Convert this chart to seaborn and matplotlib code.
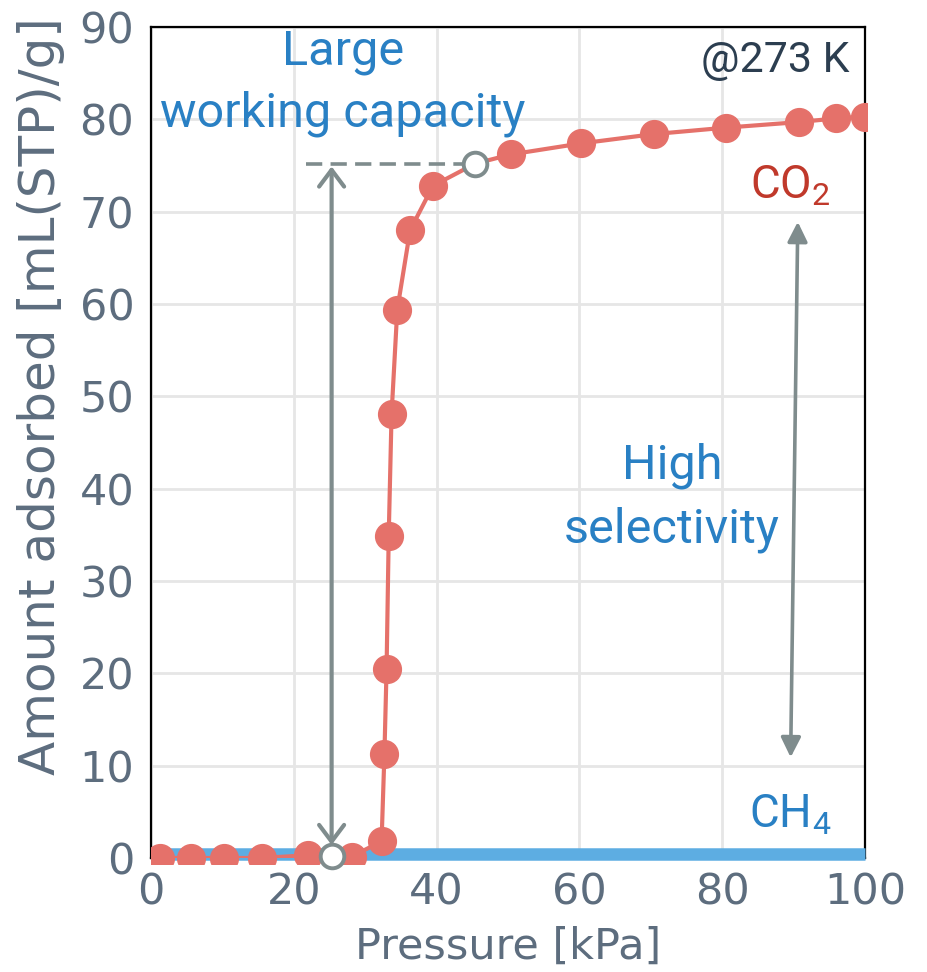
import matplotlib
matplotlib.use("Agg")
import matplotlib.pyplot as plt
from matplotlib.transforms import Bbox, TransformedBbox
import seaborn as sns
import pandas as pd

# CO2 isotherm at 273 K (pressure in kPa, uptake in mL(STP)/g)
co2_pressure = [1.3, 5.6, 10.2, 15.5, 22.0, 28.1, 32.3, 32.7, 33.0, 33.3, 33.7,
                34.5, 36.3, 39.5, 45.4, 50.4, 60.3, 70.4, 80.5, 90.7, 95.9, 100.0]
co2_amount = [0.0, 0.0, 0.0, 0.0, 0.3, 0.15, 1.8, 11.3, 20.5, 34.9, 48.1,
              59.4, 68.0, 72.8, 75.2, 76.2, 77.4, 78.4, 79.1, 79.7, 80.1, 80.3]

# CH4 isotherm (practically flat)
ch4_pressure = [0.0, 20.0, 40.0, 60.0, 80.0, 100.0]
ch4_amount = [0.45, 0.45, 0.45, 0.45, 0.45, 0.45]

# Working-capacity endpoints (hollow markers)
open_pressure = [25.3, 45.4]
open_amount = [0.2, 75.2]

# Selectivity arrow endpoints
sel_pressure = [90.6, 89.6]
sel_amount = [68.9, 10.9]

x_ticks = [0, 20, 40, 60, 80, 100]
y_ticks = [0, 10, 20, 30, 40, 50, 60, 70, 80, 90]

RED = "#e5716a"
DARK_RED = "#c0392b"
BLUE_TXT = "#2980c4"
BLUE_LINE = "#5dade2"
GRAY = "#7f8c8d"
TICK = "#5d6d7e"

sns.set_theme(style="whitegrid")
plt.rcParams["font.family"] = ["DejaVu Sans"]
plt.rcParams["mathtext.fontset"] = "custom"
plt.rcParams["mathtext.rm"] = "Roboto"

fig = plt.figure(figsize=(9.28, 9.72), dpi=100)
ax = fig.add_axes([0.1627, 0.1173, 0.932 - 0.1627, 0.9722 - 0.1173])

# clip region reaching a little below the bottom spine
clip = TransformedBbox(Bbox([[0.0, -0.007], [1.003, 1.0]]), ax.transAxes)

co2 = pd.DataFrame({"p": co2_pressure, "q": co2_amount})
ch4 = pd.DataFrame({"p": ch4_pressure, "q": ch4_amount})

sns.lineplot(data=ch4, x="p", y="q", ax=ax, color=BLUE_LINE, lw=9,
             solid_capstyle="butt", zorder=4)
ax.lines[-1].set_clip_on(False)
sns.lineplot(data=co2, x="p", y="q", ax=ax, color=RED, lw=3, zorder=5,
             sort=False)
filled = co2[~co2["p"].isin(open_pressure)]
pts, = ax.plot(filled["p"], filled["q"], ls="none", marker="o", ms=20,
               color=RED, mec=RED, zorder=6)
pts.set_clip_box(clip)

# working-capacity guide line and arrow
ax.plot([21.7, open_pressure[1]], [open_amount[1], open_amount[1]],
        ls=(0, (4.5, 2.3)), color=GRAY, lw=2.6, zorder=5)
ax.annotate("", xy=(open_pressure[0], open_amount[1] - 0.3),
            xytext=(open_pressure[0], open_amount[0] + 1.2),
            arrowprops=dict(arrowstyle="<->,head_length=0.6,head_width=0.45",
                            color=GRAY, lw=3, mutation_scale=20,
                            shrinkA=0, shrinkB=0), zorder=7)
hollow, = ax.plot(open_pressure, open_amount, ls="none", marker="o", ms=17,
                  mfc="white", mec=GRAY, mew=2.8, zorder=8)
hollow.set_clip_on(False)

# selectivity arrow
ax.annotate("", xy=(sel_pressure[0], sel_amount[0]),
            xytext=(sel_pressure[1], sel_amount[1]),
            arrowprops=dict(arrowstyle="<|-|>,head_length=0.6,head_width=0.3",
                            color=GRAY, lw=2.6, mutation_scale=20,
                            shrinkA=0, shrinkB=0), zorder=7)

txt = dict(family="Roboto", fontsize=35, ha="center", va="center")
ax.text(26.9, 87.3, "Large", color=BLUE_TXT, **txt)
ax.text(26.9, 80.6, "working capacity", color=BLUE_TXT, **txt)
ax.text(73.0, 42.5, "High", color=BLUE_TXT, **txt)
ax.text(73.0, 35.6, "selectivity", color=BLUE_TXT, **txt)
ax.text(97.8, 86.4, "@273 K", color="#2c3e50", family="Roboto", fontsize=31,
        ha="right", va="center")
ax.text(89.5, 72.8, r"$\mathrm{CO_2}$", color=DARK_RED, fontsize=33,
        ha="center", va="center")
ax.text(89.5, 4.7, r"$\mathrm{CH_4}$", color=BLUE_TXT, fontsize=33,
        ha="center", va="center")

ax.set_xlim(0, 100)
ax.set_ylim(0, 90)
ax.set_xticks(x_ticks)
ax.set_yticks(y_ticks)
ax.tick_params(axis="both", length=0, labelsize=31, labelcolor=TICK)
ax.tick_params(axis="y", pad=12)
ax.tick_params(axis="x", pad=10)
ax.grid(True, color="#e6e6e6", lw=2)
for s in ax.spines.values():
    s.set_visible(True)
    s.set_color("black")
    s.set_linewidth(1.6)

ax.set_xlabel("Pressure [kPa]", fontsize=31, color=TICK)
ax.set_ylabel("Amount adsorbed [mL(STP)/g]", fontsize=36, color=TICK)
ax.xaxis.set_label_coords(0.5, -0.082)
ax.yaxis.set_label_coords(-0.12, 0.556)

fig.savefig("out.png", dpi=100)
